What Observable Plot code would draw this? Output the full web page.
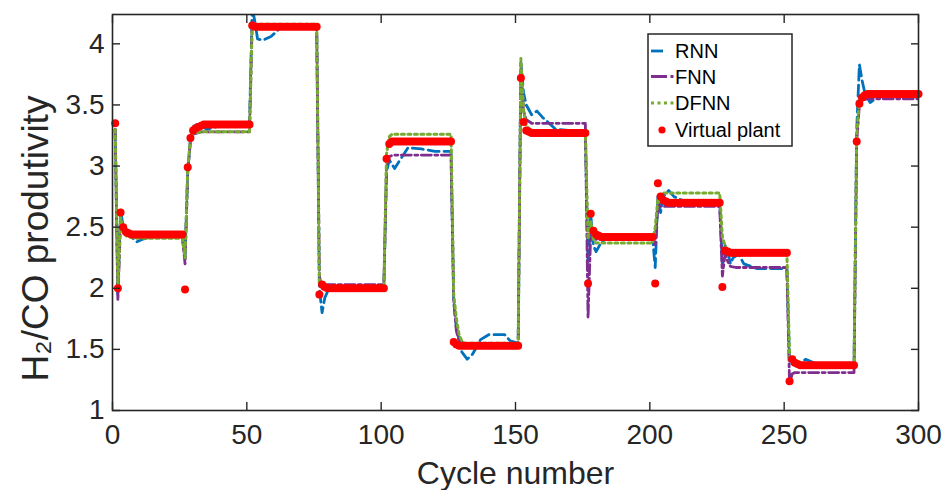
<!DOCTYPE html>
<html><head><meta charset="utf-8">
<script src="https://cdn.jsdelivr.net/npm/d3@7"></script>
<script src="https://cdn.jsdelivr.net/npm/@observablehq/plot@0.6"></script>
<style>
html,body{margin:0;padding:0;background:#fff;}
#chart{width:948px;height:490px;}
</style></head><body><div id="chart"></div>
<script>
const xTicks = [0, 50, 100, 150, 200, 250, 300];
const yTicks = [1, 1.5, 2, 2.5, 3, 3.5, 4];
const seriesNames = ["RNN", "FNN", "DFNN", "Virtual plant"];

// Virtual plant, cycles 1..300
const plantValues = [
  3.35,2.00,2.62,2.50,2.46,2.45,
  2.44,2.44,2.44,2.44,2.44,2.44,2.44,2.44,2.44,2.44,
  2.44,2.44,2.44,2.44,2.44,2.44,2.44,2.44,2.44,2.44,
  1.99,2.99,3.23,3.29,3.31,3.32,3.33,
  3.34,3.34,3.34,3.34,3.34,3.34,3.34,3.34,3.34,3.34,
  3.34,3.34,3.34,3.34,3.34,3.34,3.34,3.34,
  4.15,
  4.14,4.14,4.14,4.14,4.14,4.14,4.14,4.14,4.14,4.14,
  4.14,4.14,4.14,4.14,4.14,4.14,4.14,4.14,4.14,4.14,
  4.14,4.14,4.14,4.14,
  1.95,2.03,2.01,
  2.00,2.00,2.00,2.00,2.00,2.00,2.00,2.00,2.00,2.00,
  2.00,2.00,2.00,2.00,2.00,2.00,2.00,2.00,2.00,2.00,
  2.00,2.00,
  3.06,3.18,
  3.20,3.20,3.20,3.20,3.20,3.20,3.20,3.20,3.20,3.20,
  3.20,3.20,3.20,3.20,3.20,3.20,3.20,3.20,3.20,3.20,
  3.20,3.20,3.20,
  1.56,1.54,
  1.53,1.53,1.53,1.53,1.53,1.53,1.53,1.53,1.53,1.53,
  1.53,1.53,1.53,1.53,1.53,1.53,1.53,1.53,1.53,1.53,
  1.53,1.53,1.53,
  3.72,3.36,3.29,3.28,
  3.27,3.27,3.27,3.27,3.27,3.27,3.27,3.27,3.27,3.27,
  3.27,3.27,3.27,3.27,3.27,3.27,3.27,3.27,3.27,3.27,
  3.27,
  2.04,2.61,2.47,2.44,2.43,
  2.42,2.42,2.42,2.42,2.42,2.42,2.42,2.42,2.42,2.42,
  2.42,2.42,2.42,2.42,2.42,2.42,2.42,2.42,2.42,2.42,
  2.04,2.86,2.75,2.72,2.71,
  2.70,2.70,2.70,2.70,2.70,2.70,2.70,2.70,2.70,2.70,
  2.70,2.70,2.70,2.70,2.70,2.70,2.70,2.70,2.70,2.70,
  2.01,2.31,2.30,
  2.29,2.29,2.29,2.29,2.29,2.29,2.29,2.29,2.29,2.29,
  2.29,2.29,2.29,2.29,2.29,2.29,2.29,2.29,2.29,2.29,
  2.29,2.29,
  1.24,1.42,1.39,1.38,
  1.37,1.37,1.37,1.37,1.37,1.37,1.37,1.37,1.37,1.37,
  1.37,1.37,1.37,1.37,1.37,1.37,1.37,1.37,1.37,1.37,
  1.37,
  3.20,3.51,3.56,3.58,
  3.59,3.59,3.59,3.59,3.59,3.59,3.59,3.59,3.59,3.59,
  3.59,3.59,3.59,3.59,3.59,3.59,3.59,3.59,3.59,3.59
];
if (plantValues.length !== 300) throw new Error("plant length " + plantValues.length);

// Model predictions: [cycle, value] vertices
const rnnPoints = [
  [1,3.30],[2,1.95],[3,2.64],[4,2.50],[5,2.44],[7,2.42],[9,2.38],[11,2.40],[14,2.42],[26,2.42],
  [27,2.25],[28,2.95],[29,3.22],[30,3.32],[32,3.35],[35,3.30],[40,3.33],[45,3.35],[51,3.34],
  [52,4.30],[53,4.18],[54,4.04],[56,4.03],[59,4.06],[62,4.12],[65,4.14],[76,4.14],
  [77,2.00],[78,1.80],[79,1.92],[81,2.02],[84,2.00],[101,2.00],
  [102,2.95],[103,3.05],[105,2.98],[107,3.05],[110,3.15],[115,3.14],[120,3.12],[126,3.12],
  [127,1.90],[128,1.68],[130,1.48],[132,1.42],[134,1.46],[137,1.58],[140,1.62],[146,1.62],[148,1.57],[151,1.55],
  [152,3.85],[153,3.60],[154,3.50],[156,3.42],[158,3.45],[160,3.40],[165,3.30],[176,3.28],
  [177,2.20],[178,2.60],[179,2.35],[180,2.30],[182,2.38],[185,2.42],[201,2.42],
  [202,2.17],[203,2.75],[204,2.62],[205,2.75],[207,2.80],[209,2.75],[212,2.72],[226,2.71],
  [227,2.20],[228,2.35],[229,2.30],[230,2.20],[231,2.25],[233,2.28],[235,2.20],[240,2.16],[251,2.16],
  [252,1.40],[253,1.38],[255,1.36],[258,1.42],[262,1.38],[276,1.37],
  [277,3.30],[278,3.83],[279,3.70],[280,3.60],[282,3.52],[284,3.55],[288,3.58],[300,3.58]
];
const fnnPoints = [
  [1,3.30],[2,1.90],[3,2.55],[4,2.48],[5,2.44],[8,2.42],[26,2.42],
  [27,2.20],[28,2.95],[29,3.20],[30,3.26],[33,3.28],[51,3.28],
  [52,4.18],[53,4.15],[76,4.15],
  [77,2.10],[78,2.00],[79,2.03],[101,2.03],
  [102,3.00],[103,3.08],[105,3.09],[126,3.09],
  [127,1.90],[128,1.65],[129,1.57],[131,1.55],[151,1.55],
  [152,3.80],[153,3.45],[154,3.38],[156,3.35],[176,3.35],
  [177,1.76],[178,2.45],[179,2.42],[180,2.40],[201,2.40],
  [202,2.35],[203,2.68],[204,2.67],[226,2.67],
  [227,2.10],[228,2.28],[229,2.22],[230,2.18],[232,2.17],[251,2.17],
  [252,1.22],[253,1.30],[254,1.31],[276,1.31],
  [277,3.20],[278,3.50],[279,3.54],[281,3.55],[300,3.55]
];
const dfnnPoints = [
  [1,3.30],[2,2.00],[3,2.58],[4,2.48],[5,2.43],[8,2.41],[26,2.41],
  [27,2.25],[28,2.98],[29,3.22],[30,3.27],[33,3.28],[51,3.28],
  [52,4.17],[53,4.16],[76,4.16],
  [77,2.05],[78,2.01],[101,2.01],
  [102,3.10],[103,3.24],[104,3.26],[126,3.26],
  [127,1.95],[128,1.75],[129,1.62],[130,1.57],[131,1.55],[151,1.55],
  [152,3.88],[153,3.45],[154,3.33],[156,3.29],[176,3.29],
  [177,2.40],[178,2.55],[179,2.40],[180,2.37],[201,2.37],
  [202,2.50],[203,2.73],[204,2.77],[205,2.78],[226,2.78],
  [227,2.42],[228,2.35],[229,2.30],[251,2.30],
  [252,1.45],[253,1.40],[254,1.38],[276,1.38],
  [277,3.25],[278,3.55],[279,3.58],[300,3.58]
];

const colors = {RNN: "#0072BD", FNN: "#7E2F8E", DFNN: "#77AC30", plant: "#FF0000"};
const ink = "#262626";
const toRows = pts => pts.map(([cycle, value]) => ({cycle, value}));
const plant = plantValues.map((value, i) => ({cycle: i + 1, value}));
const fmt = d => String(d);

const chart = Plot.plot({
  width: 948, height: 490,
  marginLeft: 112, marginRight: 30, marginTop: 14, marginBottom: 80,
  style: {fontFamily: "'Liberation Sans', Arial, Helvetica, sans-serif", background: "#fff", color: ink},
  x: {domain: [0, 300]},
  y: {domain: [1, 4.24]},
  marks: [
    Plot.lineY(toRows(rnnPoints), {x: "cycle", y: "value", stroke: colors.RNN, strokeWidth: 2.8, strokeDasharray: "11,5", clip: true}),
    Plot.lineY(toRows(fnnPoints), {x: "cycle", y: "value", stroke: colors.FNN, strokeWidth: 2.8, strokeDasharray: "10,3.5,3,3.5", clip: true}),
    Plot.lineY(toRows(dfnnPoints), {x: "cycle", y: "value", stroke: colors.DFNN, strokeWidth: 3, strokeDasharray: "3,3.5", clip: true}),
    Plot.dot(plant, {x: "cycle", y: "value", r: 4, fill: colors.plant, stroke: "none"}),
    Plot.frame({stroke: ink, strokeWidth: 1.6}),
    Plot.axisX(xTicks, {anchor: "bottom", tickSize: 8, dy: -8, fill: "none", stroke: ink, strokeWidth: 1.4}),
    Plot.axisX(xTicks, {anchor: "top", tickSize: 8, dy: 8, fill: "none", stroke: ink, strokeWidth: 1.4}),
    Plot.axisY(yTicks, {anchor: "left", tickSize: 8, dx: 8, fill: "none", stroke: ink, strokeWidth: 1.4}),
    Plot.axisY(yTicks, {anchor: "right", tickSize: 8, dx: -8, fill: "none", stroke: ink, strokeWidth: 1.4}),
    Plot.axisX(xTicks, {anchor: "bottom", tickSize: 0, tickPadding: 14, fontSize: 28, label: null, fill: ink, tickFormat: fmt}),
    Plot.axisY(yTicks, {anchor: "left", tickSize: 0, tickPadding: 8, fontSize: 28, label: null, fill: ink, tickFormat: fmt}),
    Plot.text(["Cycle number"], {frameAnchor: "bottom", dy: 63, fontSize: 32, fill: ink, textAnchor: "middle", lineAnchor: "middle"}),
    Plot.text(["H₂/CO produtivity"], {frameAnchor: "left", dx: -76, dy: 26, rotate: -90, fontSize: 37, fill: ink, textAnchor: "middle", lineAnchor: "middle"})
  ]
});
document.getElementById("chart").appendChild(chart);

// Legend
const svg = d3.select(chart);
const lg = svg.append("g").attr("font-family", "'Liberation Sans', Arial, sans-serif").attr("font-size", 20).attr("fill", "#000").attr("text-anchor", "start");
lg.append("rect").attr("x", 648).attr("y", 34).attr("width", 144).attr("height", 112)
  .attr("fill", "#fff").attr("stroke", ink).attr("stroke-width", 1.5);
const rowsY = [51, 76.5, 103, 130];
lg.append("line").attr("x1", 651).attr("x2", 663).attr("y1", rowsY[0]).attr("y2", rowsY[0])
  .attr("stroke", colors.RNN).attr("stroke-width", 2.8);
lg.append("line").attr("x1", 651).attr("x2", 674).attr("y1", rowsY[1]).attr("y2", rowsY[1])
  .attr("stroke", colors.FNN).attr("stroke-width", 2.8).attr("stroke-dasharray", "16,3.5,3,3.5");
lg.append("line").attr("x1", 651).attr("x2", 674).attr("y1", rowsY[2]).attr("y2", rowsY[2])
  .attr("stroke", colors.DFNN).attr("stroke-width", 3).attr("stroke-dasharray", "3,3.5");
lg.append("circle").attr("cx", 662).attr("cy", rowsY[3]).attr("r", 3.6).attr("fill", colors.plant);
seriesNames.forEach((name, i) => {
  lg.append("text").attr("x", 675).attr("y", rowsY[i]).attr("dy", "0.36em").attr("text-anchor", "start").text(name);
});
</script>
</body></html>
